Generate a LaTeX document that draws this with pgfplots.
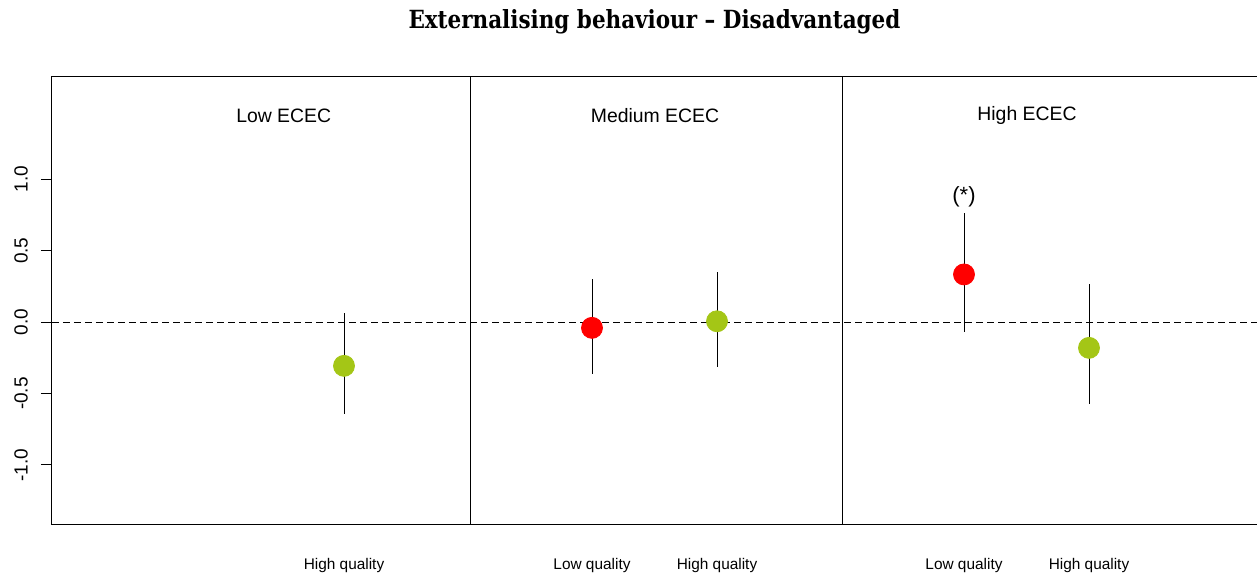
\documentclass[border=0pt]{standalone}
\usepackage{fontspec}
\setmainfont{Liberation Sans}
\newfontfamily\titlefont{DejaVu Serif}
\usepackage{pgfplots}
\pgfplotsset{compat=1.18}
\definecolor{ptred}{RGB}{255,0,0}
\definecolor{ptgreen}{RGB}{164,198,22}
\begin{document}
\begin{tikzpicture}
\begin{axis}[
  at={(0,0)}, anchor=south west,
  scale only axis, width=602.5pt, height=224pt,
  xmin=52, xmax=1257, ymin=-1.42, ymax=1.716,
  axis line style={draw=none},
  clip=false,
  ytick={-1,-0.5,0,0.5,1},
  yticklabel style={rotate=90, anchor=south, font=\fontsize{9.5}{11}\selectfont},
  yticklabel shift=3pt,
  /pgf/number format/.cd, fixed, fixed zerofill, precision=1, assume math mode=true,
  /pgfplots/.cd,
  tick align=outside,
  major tick length=5.5pt,
  ytick style={line width=0.5pt, black},
  xtick={344,592,717,964,1089},
  xticklabels={High quality, Low quality, High quality, Low quality, High quality},
  xtick style={draw=none},
  xticklabel style={anchor=base, yshift=-17pt, font=\fontsize{7.7}{9}\selectfont},
]
% frame and panel dividers
\draw[line width=0.5pt] (axis cs:1257,1.716) -- (axis cs:52,1.716) -- (axis cs:52,-1.42) -- (axis cs:1257,-1.42);
\draw[line width=0.5pt] (axis cs:470,1.716) -- (axis cs:470,-1.42);
\draw[line width=0.5pt] (axis cs:842,1.716) -- (axis cs:842,-1.42);
\draw[line width=0.5pt, dash pattern=on 3.5pt off 2pt] (axis cs:52,0) -- (axis cs:1257,0);
% confidence intervals
\addplot[draw=none, mark=none,
  error bars/.cd, y dir=both, y explicit, error mark=none,
  error bar style={line width=0.45pt, black}]
  table[x=x, y=y, y error plus=ep, y error minus=em] {
x y ep em
344 -0.306 0.368 0.334
592 -0.040 0.339 0.323
717 0.006 0.344 0.322
964 0.334 0.432 0.402
1089 -0.180 0.444 0.396
};
% point estimates
\addplot[only marks, mark=*, mark size=5.25pt, ptred, mark options={draw=ptred, fill=ptred}]
  coordinates {(592,-0.040) (964,0.334)};
\addplot[only marks, mark=*, mark size=5.25pt, ptgreen, mark options={draw=ptgreen, fill=ptgreen}]
  coordinates {(344,-0.306) (717,0.006) (1089,-0.180)};
% panel labels
\node[font=\fontsize{9.7}{11}\selectfont] at (axis cs:283.7,1.445) {Low ECEC};
\node[font=\fontsize{9.7}{11}\selectfont] at (axis cs:655,1.445) {Medium ECEC};
\node[font=\fontsize{9.7}{11}\selectfont] at (axis cs:1027,1.445) {High ECEC};
\node[font=\fontsize{11}{13}\selectfont] at (axis cs:964,0.88) {(*)};
% title
\node[font=\titlefont\bfseries\fontsize{12.5}{15}\selectfont] at (rel axis cs:0.5,1) [yshift=27.5pt] {\scalebox{0.86}[1]{Externalising behaviour – Disadvantaged}};
\end{axis}
\pgfresetboundingbox
\path (-26pt,-25.5pt) rectangle (602.5pt,262.5pt);
\end{tikzpicture}
\end{document}
